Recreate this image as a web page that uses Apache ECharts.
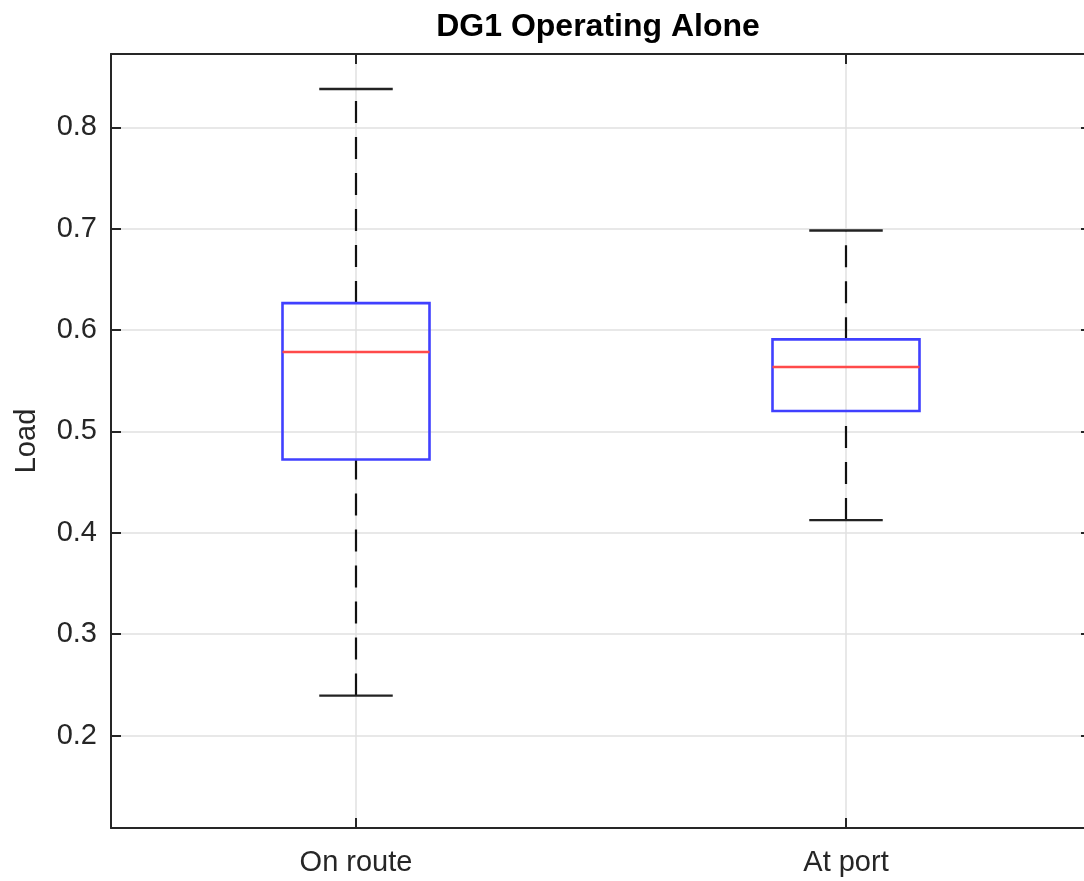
<!DOCTYPE html>
<html>
<head>
<meta charset="utf-8">
<title>DG1 Operating Alone</title>
<script src="https://cdn.jsdelivr.net/npm/echarts@6/dist/echarts.min.js"></script>
<style>
  html, body { margin: 0; padding: 0; background: #ffffff; }
  #chart { width: 1084px; height: 881px; }
</style>
</head>
<body>
<div id="chart"></div>
<script>
// Box plot statistics for DG1 load, per operating condition
const categories = ['On route', 'At port'];
const lowerWhisker = [0.2394, 0.4125];
const quartile1 = [0.4723, 0.5202];
const median = [0.5783, 0.5635];
const quartile3 = [0.6266, 0.5908];
const upperWhisker = [0.8378, 0.6982];

// Y-axis extent (axis limits)
const yMin = 0.1088;
const yMax = 0.8723;

const FONT = 'Liberation Sans, Arial, Helvetica, sans-serif';
const AXIS_COLOR = '#262626';
const GRID_COLOR = '#e0e0e0';
const TICK_LEN = 10;

const boxData = categories.map((c, i) => [
  i, lowerWhisker[i], quartile1[i], median[i], quartile3[i], upperWhisker[i]
]);

function renderBox(params, api) {
  const idx = api.value(0);
  const band = api.size([1, 0])[0];
  const boxHalf = band * 0.15;
  const capHalf = band * 0.075;
  const pLow = api.coord([idx, api.value(1)]);
  const pQ1 = api.coord([idx, api.value(2)]);
  const pMed = api.coord([idx, api.value(3)]);
  const pQ3 = api.coord([idx, api.value(4)]);
  const pHigh = api.coord([idx, api.value(5)]);
  const pTop = api.coord([idx, yMax]);
  const pBottom = api.coord([idx, yMin]);
  const x = pMed[0];
  const whiskerStyle = { stroke: '#111111', lineWidth: 2.2, lineDash: [22, 14], fill: null };
  const capStyle = { stroke: '#222222', lineWidth: 2.4, fill: null };
  return {
    type: 'group',
    children: [
      // vertical grid line through the category, leaving the axis ticks visible
      {
        type: 'line',
        shape: { x1: x, y1: pTop[1] + TICK_LEN, x2: x, y2: pBottom[1] - TICK_LEN },
        style: { stroke: GRID_COLOR, lineWidth: 1.5 }
      },
      { type: 'line', shape: { x1: x, y1: pQ3[1], x2: x, y2: pHigh[1] }, style: whiskerStyle },
      { type: 'line', shape: { x1: x, y1: pLow[1], x2: x, y2: pQ1[1] }, style: whiskerStyle },
      { type: 'line', shape: { x1: x - capHalf, y1: pHigh[1], x2: x + capHalf, y2: pHigh[1] }, style: capStyle },
      { type: 'line', shape: { x1: x - capHalf, y1: pLow[1], x2: x + capHalf, y2: pLow[1] }, style: capStyle },
      {
        type: 'rect',
        shape: { x: x - boxHalf, y: pQ3[1], width: boxHalf * 2, height: pQ1[1] - pQ3[1] },
        style: { stroke: '#4040ff', lineWidth: 2.6, fill: null }
      },
      {
        type: 'line',
        shape: { x1: x - boxHalf, y1: pMed[1], x2: x + boxHalf, y2: pMed[1] },
        style: { stroke: '#ff4a4a', lineWidth: 2.6, fill: null }
      }
    ]
  };
}

const chart = echarts.init(document.getElementById('chart'), null, { renderer: 'canvas' });

chart.setOption({
  backgroundColor: '#ffffff',
  animation: false,
  title: {
    text: 'DG1 Operating Alone',
    left: 593,
    top: 6,
    textAlign: 'center',
    textStyle: { fontFamily: FONT, fontSize: 32, fontWeight: 'bold', color: '#000000' }
  },
  grid: { left: 111, right: -7, top: 54, bottom: 53, containLabel: false, outerBoundsMode: 'none' },
  xAxis: [
    {
      type: 'category',
      data: categories,
      position: 'bottom',
      boundaryGap: true,
      axisLine: { show: true, lineStyle: { color: AXIS_COLOR, width: 2 } },
      axisTick: { show: true, inside: true, length: TICK_LEN, alignWithLabel: true, lineStyle: { color: AXIS_COLOR, width: 2 } },
      axisLabel: { fontFamily: FONT, fontSize: 29, color: AXIS_COLOR, margin: 20 },
      splitLine: { show: false }
    },
    {
      type: 'category',
      data: categories,
      position: 'top',
      boundaryGap: true,
      axisLine: { show: true, lineStyle: { color: AXIS_COLOR, width: 2 } },
      axisTick: { show: true, inside: true, length: TICK_LEN, alignWithLabel: true, lineStyle: { color: AXIS_COLOR, width: 2 } },
      axisLabel: { show: false },
      splitLine: { show: false }
    }
  ],
  yAxis: [
    {
      type: 'value',
      min: yMin,
      max: yMax,
      splitNumber: 7,
      position: 'left',
      name: 'Load',
      nameLocation: 'middle',
      nameRotate: 90,
      nameGap: 70,
      nameTextStyle: { fontFamily: FONT, fontSize: 29, color: AXIS_COLOR },
      axisLine: { show: true, lineStyle: { color: AXIS_COLOR, width: 2 } },
      axisTick: { show: true, inside: true, length: TICK_LEN, lineStyle: { color: AXIS_COLOR, width: 2 } },
      axisLabel: {
        fontFamily: FONT, fontSize: 29, color: AXIS_COLOR, margin: 14,
        showMinLabel: false, showMaxLabel: false,
        formatter: v => v.toFixed(1)
      },
      splitLine: { show: true, lineStyle: { color: GRID_COLOR, width: 1.5 } }
    },
    {
      type: 'value',
      min: yMin,
      max: yMax,
      splitNumber: 7,
      position: 'right',
      axisLine: { show: true, lineStyle: { color: AXIS_COLOR, width: 2 } },
      axisTick: { show: true, inside: true, length: TICK_LEN, lineStyle: { color: AXIS_COLOR, width: 2 } },
      axisLabel: { show: false },
      splitLine: { show: false }
    }
  ],
  series: [
    {
      type: 'custom',
      name: 'DG1 load',
      xAxisIndex: 0,
      yAxisIndex: 0,
      renderItem: renderBox,
      encode: { x: 0, y: [1, 2, 3, 4, 5] },
      data: boxData,
      z: 5
    }
  ]
});
</script>
</body>
</html>
